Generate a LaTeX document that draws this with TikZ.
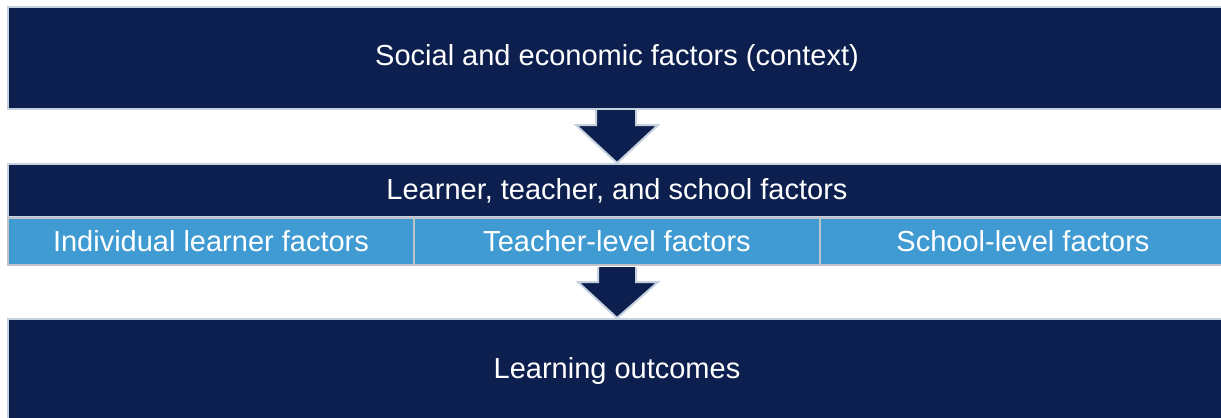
\documentclass[tikz,border=0pt]{standalone}
\usepackage{fontspec}
\setmainfont{Liberation Sans}
\usetikzlibrary{calc}
\definecolor{navy}{HTML}{0C1F4E}
\definecolor{cellblue}{HTML}{419BD3}
\definecolor{edgelight}{HTML}{C6D1DF}
\definecolor{edgegray}{HTML}{BFC4CA}
\begin{document}
\begin{tikzpicture}[x=1bp,y=-1bp,
  darkbox/.style={draw=edgelight, line width=2bp, fill=navy, text=white, inner sep=0pt,
    anchor=north west, minimum width=1218bp, font=\fontsize{29bp}{34bp}\selectfont},
  cellbox/.style={draw=edgegray, line width=2bp, fill=cellblue, text=white, inner sep=0pt,
    anchor=north west, minimum width=406bp, minimum height=47bp, font=\fontsize{29bp}{34bp}\selectfont},
  blockarrow/.style={draw=edgelight, line width=2bp, fill=navy, line join=miter}]
\useasboundingbox (0,0) rectangle (1221,417);
\clip (0,0) rectangle (1221,417);
\node[darkbox, minimum height=102bp] (ctx) at (7,6) {Social and economic factors (context)};
\node[darkbox, minimum height=53bp] (mid) at (7,163) {Learner, teacher, and school factors};
\node[cellbox] (c1) at (7,217) {Individual learner factors};
\node[cellbox] (c2) at (413,217) {Teacher-level factors};
\node[cellbox] (c3) at (819,217) {School-level factors};
\node[darkbox, minimum height=104bp] (out) at (7,318) {Learning outcomes};
\draw[blockarrow] ($(ctx.south)+(-21,0)$) -- ($(ctx.south)+(-21,15)$) -- ($(ctx.south)+(-41,15)$)
  -- (mid.north) -- ($(ctx.south)+(41,15)$) -- ($(ctx.south)+(19,15)$) -- ($(ctx.south)+(19,0)$);
\draw[blockarrow] ($(c2.south)+(-19,1)$) -- ($(c2.south)+(-19,16)$) -- ($(c2.south)+(-39,16)$)
  -- (out.north) -- ($(c2.south)+(41,16)$) -- ($(c2.south)+(19,16)$) -- ($(c2.south)+(19,1)$);
\end{tikzpicture}
\end{document}
